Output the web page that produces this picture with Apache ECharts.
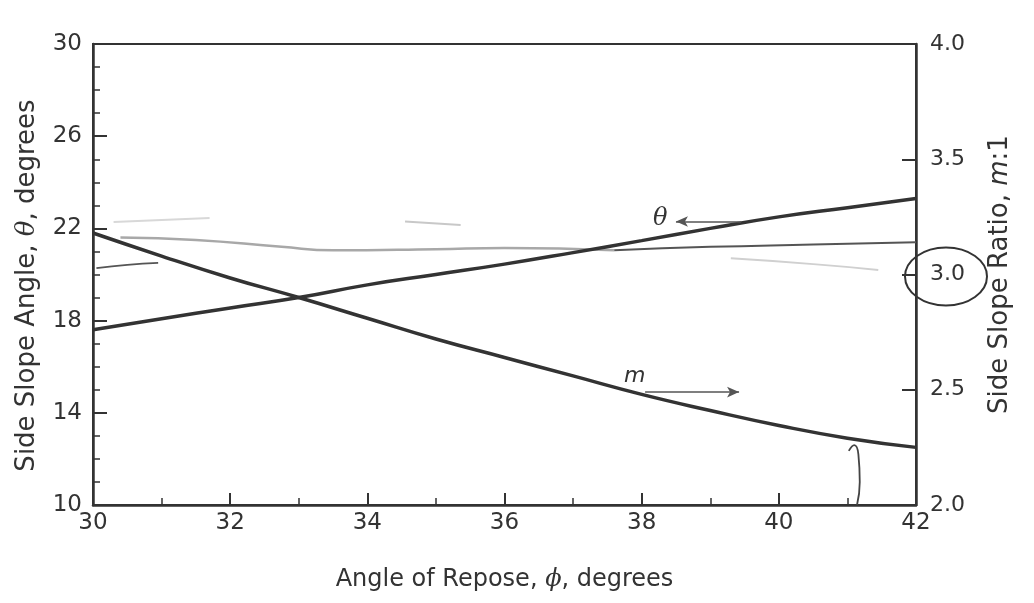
<!DOCTYPE html>
<html>
<head>
<meta charset="utf-8">
<script src="https://cdn.jsdelivr.net/npm/echarts@6/dist/echarts.min.js"></script>
<style>
html,body{margin:0;padding:0;background:#fff;}
#chart{width:1034px;height:603px;}
</style>
</head>
<body>
<div id="chart"></div>
<script>
// ---- data ----
var xTicks = [30, 32, 34, 36, 38, 40, 42];
var thetaX = [30, 31, 32, 33, 34, 35, 36, 37, 38, 39, 40, 41, 42];
var thetaY = [17.6, 18.08, 18.55, 19.0, 19.55, 20.0, 20.45, 20.95, 21.47, 22.0, 22.5, 22.9, 23.3];
var mX = [30, 31, 32, 33, 34, 35, 36, 37, 38, 39, 40, 41, 42];
var mY = [3.18, 3.08, 2.985, 2.90, 2.81, 2.72, 2.64, 2.56, 2.48, 2.41, 2.345, 2.29, 2.25];
// faint scan / pencil lines
var greyAX = [30.4, 31.5, 32.75, 33.5, 35, 36, 37.6];
var greyAY = [21.6, 21.5, 21.2, 21.05, 21.1, 21.15, 21.05];
var darkBX = [37.6, 39, 40.5, 42];
var darkBY = [21.05, 21.2, 21.3, 21.4];
var shortX = [30.05, 30.5, 30.95];
var shortY = [20.28, 20.42, 20.5];
var faint1X = [30.3, 31.7];
var faint1Y = [22.28, 22.45];
var faint2X = [34.55, 35.36];
var faint2Y = [22.3, 22.15];
var faint3X = [39.3, 40.5, 41.45];
var faint3Y = [20.7, 20.45, 20.2];
var hookX = [41.02, 41.1, 41.16, 41.18, 41.14];
var hookY = [12.35, 12.6, 12.2, 11.0, 10.0];
// annotations
var thetaArrow = [[39.45, 22.3], [38.5, 22.3]];
var thetaLabel = [38.27, 22.4];
var mArrow = [[38.05, 2.49], [39.42, 2.49]];
var mLabel = [37.9, 2.56];

function pairs(xs, ys) { return xs.map(function (x, i) { return [x, ys[i]]; }); }

var FONT = '"DejaVu Sans", sans-serif';
var INK = '#333333';

var chart = echarts.init(document.getElementById('chart'), null, {renderer: 'canvas'});

function thin(name, xs, ys, color, width) {
  return {
    name: name, type: 'line', yAxisIndex: 0, data: pairs(xs, ys),
    symbol: 'none', smooth: true, silent: true,
    lineStyle: {color: color, width: width}, z: 1
  };
}

var option = {
  animation: false,
  backgroundColor: '#fff',
  grid: {left: 93, right: 118, top: 44, bottom: 98, show: true, borderColor: INK, borderWidth: 2, backgroundColor: 'transparent'},
  xAxis: {
    type: 'value', min: 30, max: 42, interval: 2,
    name: 'Angle of Repose, {i|ϕ}, degrees',
    nameLocation: 'middle', nameGap: 63,
    nameTextStyle: {fontFamily: FONT, fontSize: 24, color: INK, rich: {i: {fontFamily: 'DejaVu Serif', fontStyle: 'italic', fontSize: 24, color: INK}}},
    axisLine: {show: true, lineStyle: {color: INK, width: 2.5}},
    axisTick: {show: true, inside: true, length: 12, lineStyle: {color: INK, width: 2}},
    minorTick: {show: true, splitNumber: 2, length: 7, lineStyle: {color: INK, width: 1.5}},
    axisLabel: {fontFamily: FONT, fontSize: 23, color: INK, margin: 7,
      formatter: function (v) { return xTicks.indexOf(v) >= 0 ? String(v) : ''; }},
    splitLine: {show: false}
  },
  yAxis: [{
    type: 'value', min: 10, max: 30, interval: 4, position: 'left',
    name: 'Side Slope Angle, {i|θ}, degrees',
    nameLocation: 'middle', nameGap: 53, nameRotate: 90,
    nameTextStyle: {fontFamily: FONT, fontSize: 26, color: INK, padding: [0, 22, 0, 0], rich: {i: {fontFamily: 'DejaVu Serif', fontStyle: 'italic', fontSize: 26, color: INK}}},
    axisLine: {show: true, lineStyle: {color: INK, width: 2.5}},
    axisTick: {show: true, inside: true, length: 14, lineStyle: {color: INK, width: 2}},
    minorTick: {show: true, splitNumber: 4, length: 7, lineStyle: {color: INK, width: 1.5}},
    axisLabel: {fontFamily: FONT, fontSize: 23, color: INK, margin: 11},
    splitLine: {show: false}
  }, {
    type: 'value', min: 2, max: 4, interval: 0.5, position: 'right',
    name: 'Side Slope Ratio, {i|m}:1',
    nameLocation: 'middle', nameGap: 71, nameRotate: 90,
    nameTextStyle: {fontFamily: FONT, fontSize: 26, color: INK, rich: {i: {fontFamily: FONT, fontStyle: 'italic', fontSize: 26, color: INK}}},
    axisLine: {show: true, lineStyle: {color: INK, width: 2.5}},
    axisTick: {show: true, inside: true, length: 14, lineStyle: {color: INK, width: 2}},
    axisLabel: {fontFamily: FONT, fontSize: 22, color: INK, margin: 14,
      formatter: function (v) { return v.toFixed(1); }},
    splitLine: {show: false}
  }],
  series: [
    thin('greyA', greyAX, greyAY, '#a8a8a8', 2.5),
    thin('darkB', darkBX, darkBY, '#555', 2),
    thin('short', shortX, shortY, '#555', 1.8),
    thin('faint1', faint1X, faint1Y, '#d8d8d8', 2),
    thin('faint2', faint2X, faint2Y, '#c8c8c8', 2),
    thin('faint3', faint3X, faint3Y, '#d0d0d0', 2),
    thin('hook', hookX, hookY, '#444', 1.8),
    {
      name: 'theta', type: 'line', yAxisIndex: 0, data: pairs(thetaX, thetaY),
      symbol: 'none', smooth: true, lineStyle: {color: INK, width: 3.5}, z: 3,
      markLine: {
        silent: true, symbol: ['none', 'arrow'], symbolSize: [8, 12],
        lineStyle: {color: '#555', width: 1.5, type: 'solid'}, label: {show: false},
        data: [[{coord: thetaArrow[0]}, {coord: thetaArrow[1]}]]
      },
      markPoint: {
        silent: true, symbol: 'circle', symbolSize: 0,
        data: [{coord: thetaLabel, label: {show: true, formatter: 'θ', fontFamily: 'DejaVu Serif', fontStyle: 'italic', fontSize: 24, color: INK}}]
      }
    },
    {
      name: 'm', type: 'line', yAxisIndex: 1, data: pairs(mX, mY),
      symbol: 'none', smooth: true, lineStyle: {color: INK, width: 3.5}, z: 3,
      markLine: {
        silent: true, symbol: ['none', 'arrow'], symbolSize: [8, 12],
        lineStyle: {color: '#555', width: 1.5, type: 'solid'}, label: {show: false},
        data: [[{coord: mArrow[0]}, {coord: mArrow[1]}]]
      },
      markPoint: {
        silent: true, symbol: 'circle', symbolSize: 0,
        data: [{coord: mLabel, label: {show: true, formatter: 'm', fontFamily: FONT, fontStyle: 'italic', fontSize: 22, color: INK}}]
      }
    }
  ]
};
chart.setOption(option);

// hand-drawn circle around the 3.0 label on the right axis
var cy = chart.convertToPixel({yAxisIndex: 1}, 3.0);
var cx = chart.convertToPixel({xAxisIndex: 0}, 42);
chart.setOption({
  graphic: [{
    type: 'ellipse', silent: true,
    shape: {cx: cx + 30, cy: cy + 2, rx: 41, ry: 29},
    style: {fill: 'none', stroke: '#333', lineWidth: 2}
  }]
});
</script>
</body>
</html>
